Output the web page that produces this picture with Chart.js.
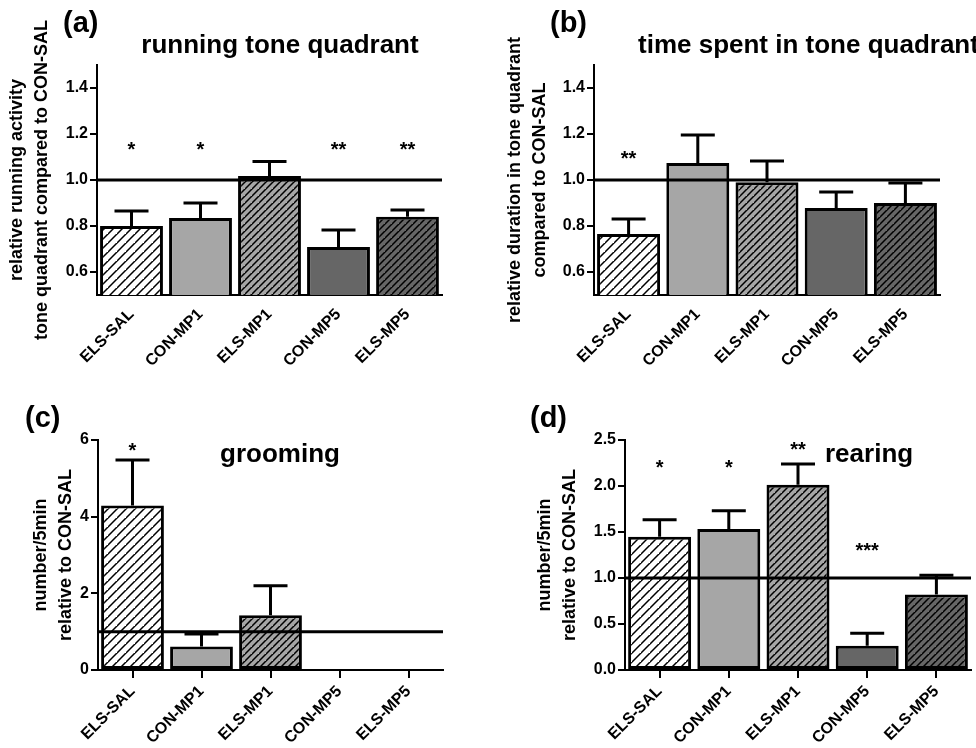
<!DOCTYPE html>
<html>
<head>
<meta charset="utf-8">
<script src="https://cdn.jsdelivr.net/npm/chart.js@4.4.1/dist/chart.umd.min.js"></script>
<style>
  html, body { margin: 0; padding: 0; background: #fff; }
  #wrap { position: relative; width: 976px; height: 748px; background: #fff; }
  canvas { position: absolute; }
</style>
</head>
<body>
<div id="wrap">
  <canvas id="pa" width="488" height="374" style="left:0;top:0"></canvas>
  <canvas id="pb" width="488" height="374" style="left:488px;top:0"></canvas>
  <canvas id="pc" width="488" height="374" style="left:0;top:374px"></canvas>
  <canvas id="pd" width="488" height="374" style="left:488px;top:374px"></canvas>
</div>
<script>
// ---------- data ----------
const categories = ['ELS-SAL', 'CON-MP1', 'ELS-MP1', 'CON-MP5', 'ELS-MP5'];

// (a) running tone quadrant
const runningMean = [0.80, 0.835, 1.017, 0.709, 0.84];
const runningSem  = [0.065, 0.065, 0.063, 0.074, 0.03];
const runningStars = ['*', '*', '', '**', '**'];
const runningStarY = [1.15, 1.15, null, 1.15, 1.15];
const runningTicks = [0.6, 0.8, 1.0, 1.2, 1.4];

// (b) time spent in tone quadrant
const timeMean = [0.765, 1.074, 0.99, 0.878, 0.90];
const timeSem  = [0.065, 0.122, 0.093, 0.07, 0.087];
const timeStars = ['**', '', '', '', ''];
const timeStarY = [1.11, null, null, null, null];
const timeTicks = [0.6, 0.8, 1.0, 1.2, 1.4];

// (c) grooming
const groomMean = [4.29, 0.61, 1.43, null, null];
const groomSem  = [1.19, 0.33, 0.77, null, null];
const groomStars = ['*', '', '', '', ''];
const groomStarY = [5.83, null, null, null, null];
const groomTicks = [0, 2, 4, 6];

// (d) rearing
const rearMean = [1.449, 1.533, 2.014, 0.264, 0.82];
const rearSem  = [0.185, 0.197, 0.226, 0.136, 0.21];
const rearStars = ['*', '*', '**', '***', ''];
const rearStarY = [2.24, 2.24, 2.43, 1.34, null];
const rearTicks = [0, 0.5, 1.0, 1.5, 2.0, 2.5];

const referenceValue = 1.0;

// ---------- styling ----------
const FONT = '"Liberation Sans", Arial, Helvetica, sans-serif';
const LIGHT = '#a6a6a6';
const DARK = '#666666';

function hatch(bg, spacing) {
  const c = document.createElement('canvas');
  c.width = spacing; c.height = spacing;
  const g = c.getContext('2d');
  g.fillStyle = bg; g.fillRect(0, 0, spacing, spacing);
  g.strokeStyle = '#000'; g.lineWidth = 1.5;
  g.beginPath();
  g.moveTo(-1, spacing + 1); g.lineTo(spacing + 1, -1);
  g.moveTo(-1 - spacing, spacing + 1); g.lineTo(1, -1);
  g.moveTo(spacing - 1, 2 * spacing + 1); g.lineTo(2 * spacing + 1, spacing - 1);
  g.stroke();
  return g.createPattern(c, 'repeat');
}
function fillsFor() {
  return [hatch('#ffffff', 9), LIGHT, hatch(LIGHT, 7), DARK, hatch(DARK, 7)];
}

const annot = {
  id: 'annot',
  afterDatasetsDraw(chart) {
    const o = chart.options.plugins.annot;
    const ctx = chart.ctx;
    const meta = chart.getDatasetMeta(0);
    const y = chart.scales.y;
    const area = chart.chartArea;
    ctx.save();
    // error bars
    ctx.strokeStyle = '#000';
    ctx.lineWidth = 3;
    ctx.lineCap = 'butt';
    o.mean.forEach((m, i) => {
      if (m === null || o.sem[i] === null) return;
      const x = meta.data[i].x;
      const y0 = y.getPixelForValue(m);
      const y1 = y.getPixelForValue(m + o.sem[i]);
      ctx.beginPath();
      ctx.moveTo(x, y0); ctx.lineTo(x, y1);
      ctx.moveTo(x - 17, y1); ctx.lineTo(x + 17, y1);
      ctx.stroke();
    });
    // reference line
    const yr = y.getPixelForValue(referenceValue);
    ctx.lineWidth = 3;
    ctx.beginPath();
    ctx.moveTo(area.left, yr); ctx.lineTo(area.right, yr);
    ctx.stroke();
    // stars
    ctx.fillStyle = '#000';
    ctx.font = 'bold 20px ' + FONT;
    ctx.textAlign = 'center';
    ctx.textBaseline = 'alphabetic';
    o.stars.forEach((s, i) => {
      if (!s) return;
      const m = ctx.measureText(s);
      const cy = y.getPixelForValue(o.starY[i]);
      const base = cy + (m.actualBoundingBoxAscent - m.actualBoundingBoxDescent) / 2;
      ctx.fillText(s, meta.data[i].x, base);
    });
    // panel letter
    ctx.textAlign = 'left';
    ctx.font = 'bold 29px ' + FONT;
    ctx.fillText(o.letter, o.letterX, o.letterY);
    // title
    ctx.font = 'bold 26px ' + FONT;
    ctx.textAlign = o.titleAlign;
    ctx.fillText(o.title, o.titleX, o.titleY);
    ctx.restore();
  }
};

function panel(id, p) {
  new Chart(document.getElementById(id), {
    type: 'bar',
    data: {
      labels: categories,
      datasets: [{
        data: p.mean,
        backgroundColor: fillsFor(),
        borderColor: '#000',
        borderWidth: 3,
        borderSkipped: false,
        categoryPercentage: 1,
        barPercentage: 0.91
      }]
    },
    options: {
      responsive: false,
      animation: false,
      devicePixelRatio: 1,
      layout: { padding: { top: p.top, right: p.right, left: 0, bottom: 0 } },
      plugins: {
        legend: { display: false },
        tooltip: { enabled: false },
        annot: p
      },
      scales: {
        x: {
          offset: true,
          grid: { display: true, drawOnChartArea: false, drawTicks: p.xTicks, tickLength: 8, offset: false, color: '#000', lineWidth: 2 },
          border: { display: true, color: '#000', width: 2 },
          ticks: { minRotation: 45, maxRotation: 45, autoSkip: false, color: '#000', padding: p.xPad,
                   font: { family: FONT, size: 16, weight: 'bold' } },
          afterFit: (s) => { s.height = p.xHeight; }
        },
        y: {
          min: p.min, max: p.max,
          afterBuildTicks: (s) => { s.ticks = p.ticks.map(v => ({ value: v })); },
          ticks: { color: '#000', padding: 2, font: { family: FONT, size: 16, weight: 'bold' },
                   callback: (v) => p.fmt(v) },
          grid: { display: true, drawOnChartArea: false, drawTicks: true, tickLength: 7, color: '#000', lineWidth: 2 },
          border: { display: true, color: '#000', width: 2 },
          title: { display: true, text: p.yTitle, color: '#000',
                   font: { family: FONT, size: 18, weight: 'bold', lineHeight: 1.4 },
                   padding: { top: p.yTitlePad, bottom: 0 } },
          afterFit: (s) => { s.width = p.left; }
        }
      }
    },
    plugins: [annot]
  });
}

panel('pa', {
  mean: runningMean, sem: runningSem, stars: runningStars, starY: runningStarY,
  ticks: runningTicks, min: 0.5, max: 1.5, fmt: v => v.toFixed(1),
  top: 65, right: 46, left: 97, xHeight: 79, xTicks: false, xPad: 10,
  yTitle: ['relative running activity', 'tone quadrant compared to CON-SAL'], yTitlePad: 4,
  letter: '(a)', letterX: 63, letterY: 32,
  title: 'running tone quadrant', titleX: 280, titleY: 53, titleAlign: 'center'
});
panel('pb', {
  mean: timeMean, sem: timeSem, stars: timeStars, starY: timeStarY,
  ticks: timeTicks, min: 0.5, max: 1.5, fmt: v => v.toFixed(1),
  top: 65, right: 36, left: 106, xHeight: 79, xTicks: false, xPad: 10,
  yTitle: ['relative duration in tone quadrant', 'compared to CON-SAL'], yTitlePad: 14,
  letter: '(b)', letterX: 62, letterY: 32,
  title: 'time spent in tone quadrant', titleX: 150, titleY: 53, titleAlign: 'left'
});
panel('pc', {
  mean: groomMean, sem: groomSem, stars: groomStars, starY: groomStarY,
  ticks: groomTicks, min: 0, max: 6, fmt: v => String(v),
  top: 66, right: 45, left: 98, xHeight: 78, xTicks: true, xPad: 4,
  yTitle: ['number/5min', 'relative to CON-SAL'], yTitlePad: 28,
  letter: '(c)', letterX: 25, letterY: 53,
  title: 'grooming', titleX: 280, titleY: 88, titleAlign: 'center'
});
panel('pd', {
  mean: rearMean, sem: rearSem, stars: rearStars, starY: rearStarY,
  ticks: rearTicks, min: 0, max: 2.5, fmt: v => v.toFixed(1),
  top: 66, right: 5, left: 137, xHeight: 78, xTicks: true, xPad: 4,
  yTitle: ['number/5min', 'relative to CON-SAL'], yTitlePad: 44,
  letter: '(d)', letterX: 42, letterY: 53,
  title: 'rearing', titleX: 337, titleY: 88, titleAlign: 'left'
});
</script>
</body>
</html>
